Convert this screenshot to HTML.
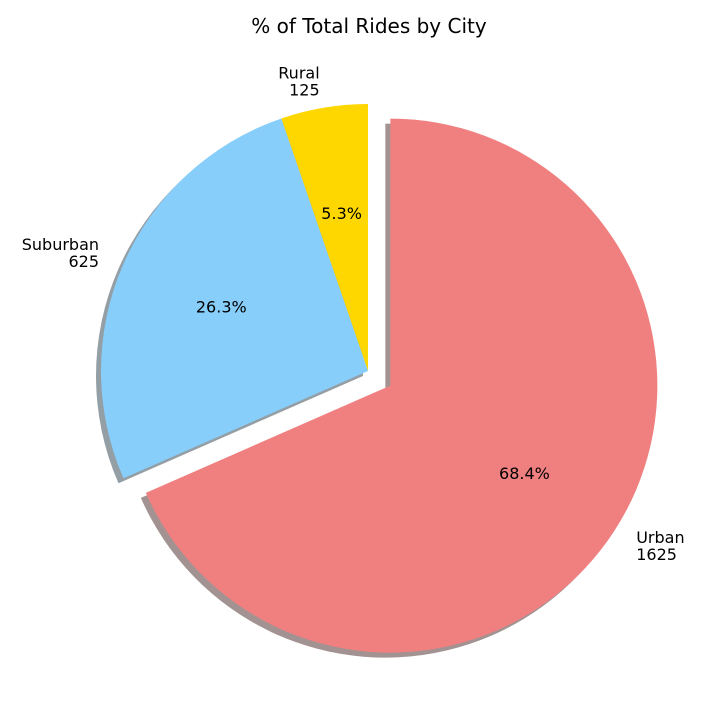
<!DOCTYPE html>
<html><head><meta charset="utf-8"><style>
html,body{margin:0;padding:0;background:#fff;}
svg{display:block;font-family:"DejaVu Sans","Liberation Sans",sans-serif;}
</style></head><body>
<svg id="chart" width="720" height="720" viewBox="0 0 720 720" xmlns="http://www.w3.org/2000/svg">
<rect width="720" height="720" fill="#fff"/>
<text x="369" y="33" text-anchor="middle" font-size="20">% of Total Rides by City</text>
<g id="shadows"></g>
<g id="wedges"></g>
<g id="labels"></g>
</svg>
<script>
const categories = ["Rural", "Suburban", "Urban"];
const rideCounts = [125, 625, 1625];
const colors = ["#FFD700", "#87CEFA", "#F08080"];
const explode = [0, 0, 0.1];

const cx = 368, cy = 371, R = 267, startAngle = 90;
const NS = "http://www.w3.org/2000/svg";
const total = rideCounts.reduce((a, b) => a + b, 0);
const shadows = document.getElementById("shadows");
const wedges = document.getElementById("wedges");
const labels = document.getElementById("labels");
function pt(x0, y0, r, deg) { const a = deg * Math.PI / 180; return [x0 + r * Math.cos(a), y0 - r * Math.sin(a)]; }
function wedgePath(x0, y0, a1, a2) {
  const p1 = pt(x0, y0, R, a1), p2 = pt(x0, y0, R, a2);
  const large = (a2 - a1) > 180 ? 1 : 0;
  return `M${x0},${y0} L${p1[0]},${p1[1]} A${R},${R} 0 ${large} 0 ${p2[0]},${p2[1]} Z`;
}
let a = startAngle;
rideCounts.forEach((v, i) => {
  const span = v / total * 360;
  const a1 = a, a2 = a + span, mid = (a1 + a2) / 2;
  const off = pt(0, 0, explode[i] * R, mid);
  const x0 = cx + off[0], y0 = cy + off[1];
  const c = colors[i];
  const rgb = [parseInt(c.substr(1, 2), 16), parseInt(c.substr(3, 2), 16), parseInt(c.substr(5, 2), 16)];
  const sh = document.createElementNS(NS, "path");
  sh.setAttribute("d", wedgePath(x0 - 5, y0 + 5, a1, a2));
  sh.setAttribute("fill", `rgb(${rgb.map(x => Math.round(x * 0.3)).join(",")})`);
  sh.setAttribute("fill-opacity", "0.5");
  
  
  shadows.appendChild(sh);
  const w = document.createElementNS(NS, "path");
  w.setAttribute("d", wedgePath(x0, y0, a1, a2));
  w.setAttribute("fill", c);
  
  
  wedges.appendChild(w);
  const lp = pt(x0, y0, 1.1 * R, mid);
  const right = lp[0] < x0;
  const t = document.createElementNS(NS, "text");
  t.setAttribute("font-size", "16");
  t.setAttribute("text-anchor", right ? "end" : "start");
  
  
  [categories[i], String(v)].forEach((s, k) => {
    const ts = document.createElementNS(NS, "tspan");
    ts.setAttribute("x", lp[0]);
    ts.setAttribute("y", lp[1] - 3 + k * 17);
    ts.textContent = s;
    t.appendChild(ts);
  });
  labels.appendChild(t);
  const pp = pt(x0, y0, 0.6 * R, mid);
  const p = document.createElementNS(NS, "text");
  p.setAttribute("x", pp[0]); p.setAttribute("y", pp[1] + 6);
  p.setAttribute("font-size", "16");
  p.setAttribute("text-anchor", "middle");
  
  
  p.textContent = (v / total * 100).toFixed(1) + "%";
  labels.appendChild(p);
  a = a2;
});
</script>
</body></html>
